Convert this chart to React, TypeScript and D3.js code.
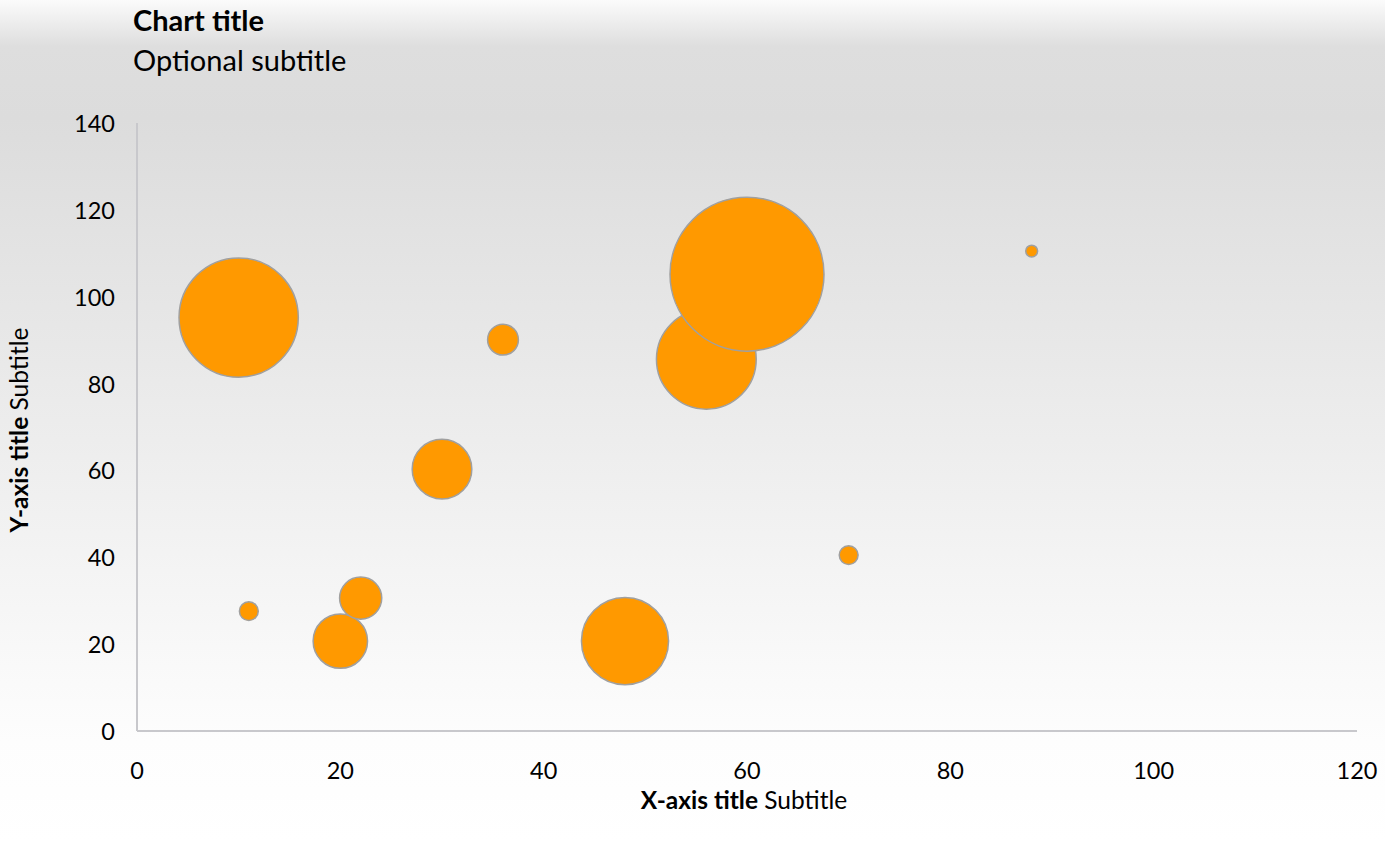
import React from "react";
import * as d3 from "d3";

const xValues = [10, 11, 20, 22, 30, 36, 48, 56, 60, 70, 88];
const yValues = [95.2, 27.6, 20.7, 30.6, 60.3, 90.1, 20.7, 85.6, 105.2, 40.5, 110.5];
const sizeValues = [60, 1.5, 12.5, 7.5, 15, 4, 32, 42, 100, 1.5, 0.6];
const xTicks = [0, 20, 40, 60, 80, 100, 120];
const yTicks = [0, 20, 40, 60, 80, 100, 120, 140];

const W = 1385;
const H = 842;
const FONT = "Lato, 'Open Sans', sans-serif";

export default function App() {
  const x = d3.scaleLinear().domain([0, 120]).range([137, 1357]);
  const y = d3.scaleLinear().domain([0, 140]).range([731, 123]);
  const r = d3.scaleSqrt().domain([0, 100]).range([0, 77]);

  const pts = xValues.map((xv, i) => ({ x: xv, y: yValues[i], s: sizeValues[i] }));

  return (
    <svg
      width={W}
      height={H}
      style={{ position: "absolute", left: 0, top: 0, display: "block" }}
      fontFamily={FONT}
    >
      <defs>
        <linearGradient id="bg" x1="0" y1="0" x2="0" y2="1">
          <stop offset="0" stopColor="#fbfbfb" />
          <stop offset="0.055" stopColor="#dedede" />
          <stop offset="0.14" stopColor="#dcdcdc" />
          <stop offset="0.88" stopColor="#fdfdfd" />
          <stop offset="1" stopColor="#ffffff" />
        </linearGradient>
      </defs>
      <rect x={0} y={0} width={W} height={H} fill="url(#bg)" />

      <text x={133} y={31} fontSize={29} fontWeight="bold" fill="#000">
        Chart title
      </text>
      <text x={133} y={71} fontSize={29} fill="#000">
        Optional subtitle
      </text>

      {/* axes */}
      <line x1={x(0)} x2={x(0)} y1={y(140)} y2={y(0)} stroke="#c8c8cc" strokeWidth={2} />
      <line x1={x(0)} x2={x(120)} y1={y(0)} y2={y(0)} stroke="#c8c8cc" strokeWidth={2} />

      {yTicks.map((t) => (
        <text
          key={"y" + t}
          x={115}
          y={y(t)}
          textAnchor="end"
          dominantBaseline="central"
          fontSize={23.5}
          fill="#000"
        >
          {t}
        </text>
      ))}
      {xTicks.map((t) => (
        <text
          key={"x" + t}
          x={x(t)}
          y={770}
          textAnchor="middle"
          dominantBaseline="central"
          fontSize={23.5}
          fill="#000"
        >
          {t}
        </text>
      ))}

      {pts.map((p, i) => (
        <circle
          key={i}
          cx={x(p.x)}
          cy={y(p.y)}
          r={r(p.s)}
          fill="#ff9900"
          stroke="#a0a0a0"
          strokeWidth={1.5}
        />
      ))}

      <text x={744} y={809} textAnchor="middle" fontSize={24.5} fill="#000">
        <tspan fontWeight="bold">X-axis title</tspan>
        <tspan> Subtitle</tspan>
      </text>
      <text
        transform={`translate(28, 430) rotate(-90)`}
        textAnchor="middle"
        fontSize={24.5}
        fill="#000"
      >
        <tspan fontWeight="bold">Y-axis title</tspan>
        <tspan> Subtitle</tspan>
      </text>
    </svg>
  );
}
